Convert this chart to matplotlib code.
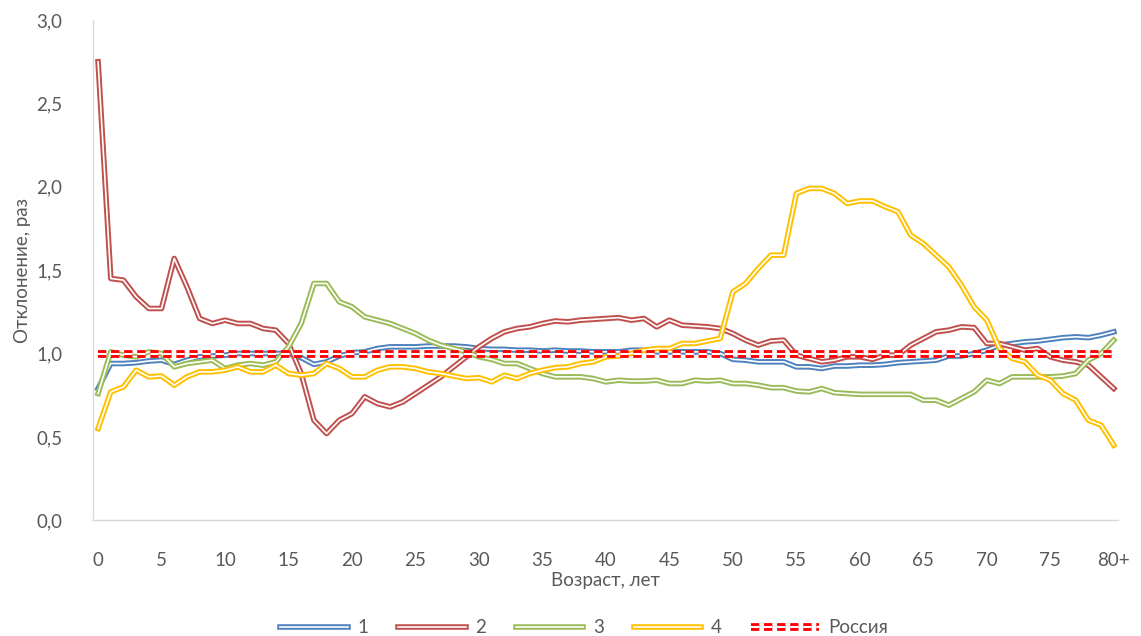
import matplotlib
matplotlib.use("Agg")
import matplotlib.pyplot as plt
import matplotlib.patheffects as pe
import numpy as np

plt.rcParams['font.family'] = ['Lato', 'DejaVu Sans']
plt.rcParams['lines.scale_dashes'] = False

ages = list(range(81))
tick_labels = [str(a) for a in range(0, 80, 5)] + ['80+']

s1 = [0.79, 0.94, 0.94, 0.945, 0.955, 0.96, 0.935, 0.96, 0.98, 0.985,
      0.99, 1.0, 1.0, 1.0, 1.0, 1.0, 0.975, 0.935, 0.95, 0.985,
      1.005, 1.01, 1.03, 1.04, 1.04, 1.04, 1.045, 1.045, 1.045, 1.04,
      1.03, 1.025, 1.025, 1.02, 1.02, 1.015, 1.02, 1.015, 1.015, 1.01,
      1.01, 1.01, 1.02, 1.02, 1.01, 1.01, 1.01, 1.01, 1.01, 1.0,
      0.965, 0.96, 0.95, 0.95, 0.95, 0.92, 0.92, 0.91, 0.925, 0.925,
      0.93, 0.93, 0.935, 0.945, 0.95, 0.955, 0.96, 0.985, 0.985, 1.0,
      1.02, 1.05, 1.06, 1.07, 1.075, 1.085, 1.095, 1.10, 1.095, 1.11,
      1.13]
s2 = [2.75, 1.45, 1.44, 1.34, 1.27, 1.27, 1.57, 1.40, 1.21, 1.18,
      1.20, 1.18, 1.18, 1.15, 1.14, 1.06, 0.88, 0.60, 0.52, 0.60,
      0.64, 0.74, 0.70, 0.68, 0.71, 0.76, 0.81, 0.86, 0.92, 0.98,
      1.04, 1.09, 1.13, 1.15, 1.16, 1.18, 1.195, 1.19, 1.20, 1.205,
      1.21, 1.215, 1.20, 1.21, 1.16, 1.20, 1.17, 1.165, 1.16, 1.15,
      1.12, 1.08, 1.05, 1.075, 1.08, 0.99, 0.97, 0.95, 0.96, 0.98,
      0.98, 0.965, 0.99, 0.99, 1.05, 1.09, 1.13, 1.14, 1.16, 1.155,
      1.06, 1.06, 1.04, 1.02, 1.03, 0.98, 0.96, 0.95, 0.93, 0.86,
      0.79]
s3 = [0.76, 1.01, 0.99, 0.98, 1.01, 1.00, 0.92, 0.94, 0.95, 0.96,
      0.91, 0.93, 0.94, 0.93, 0.95, 1.04, 1.18, 1.42, 1.42, 1.31,
      1.28, 1.22, 1.20, 1.18, 1.15, 1.12, 1.08, 1.05, 1.03, 1.01,
      0.98, 0.965, 0.94, 0.94, 0.91, 0.88, 0.86, 0.86, 0.86, 0.85,
      0.83, 0.84, 0.835, 0.835, 0.84, 0.82, 0.82, 0.84, 0.835, 0.84,
      0.82, 0.82, 0.81, 0.795, 0.795, 0.775, 0.77, 0.79, 0.765, 0.76,
      0.755, 0.755, 0.755, 0.755, 0.755, 0.72, 0.72, 0.69, 0.73, 0.77,
      0.84, 0.82, 0.86, 0.86, 0.86, 0.86, 0.865, 0.88, 0.96, 1.0,
      1.08]
s4 = [0.55, 0.77, 0.80, 0.90, 0.86, 0.865, 0.81, 0.86, 0.89, 0.89,
      0.90, 0.92, 0.89, 0.89, 0.93, 0.88, 0.87, 0.88, 0.94, 0.91,
      0.86, 0.86, 0.90, 0.92, 0.92, 0.91, 0.89, 0.88, 0.865, 0.85,
      0.855, 0.83, 0.87, 0.85, 0.88, 0.90, 0.915, 0.92, 0.94, 0.95,
      0.98, 0.985, 1.0, 1.02, 1.03, 1.03, 1.06, 1.06, 1.075, 1.09,
      1.37, 1.42, 1.51, 1.59, 1.59, 1.96, 1.99, 1.99, 1.96, 1.90,
      1.915, 1.915, 1.88, 1.85, 1.71, 1.66, 1.59, 1.52, 1.41, 1.28,
      1.20, 1.03, 0.97, 0.95, 0.87, 0.84, 0.76, 0.72, 0.60, 0.57,
      0.45]
russia = [1.0] * 81

series = [(s1, '1', '#4F81BD'), (s2, '2', '#C0504D'),
          (s3, '3', '#9BBB59'), (s4, '4', '#FFC000')]

fig = plt.figure(figsize=(11.41, 6.36), dpi=100)
ax = fig.add_axes([0.0815, 0.182, 0.898, 0.7865])

for vals, label, color in series:
    # double line: white core with coloured outer stroke
    ax.plot(ages, vals, color='white', lw=1.2, label=label,
            path_effects=[pe.Stroke(linewidth=4.0, foreground=color), pe.Normal()])

ax.plot(ages, russia, color='white', lw=1.5, dashes=(6.0, 3.4), label='Россия',
        path_effects=[pe.Stroke(linewidth=5.6, foreground='#FF0000'), pe.Normal()])

ax.set_xlim(-0.4, 80.3)
ax.set_ylim(0, 3.0)
ax.set_yticks(np.arange(0, 3.01, 0.5))
ax.set_yticklabels([f'{v:.1f}'.replace('.', ',') for v in np.arange(0, 3.01, 0.5)])
ax.set_xticks(ages[::5])
ax.set_xticklabels(tick_labels)

ax.tick_params(axis='both', length=0, labelsize=13.5, colors='#595959')
ax.tick_params(axis='y', pad=22)
ax.tick_params(axis='x', pad=23)

for side in ['top', 'right']:
    ax.spines[side].set_visible(False)
for side in ['left', 'bottom']:
    ax.spines[side].set_color('#D9D9D9')
    ax.spines[side].set_linewidth(1.0)

ax.set_xlabel('Возраст, лет', fontsize=13.5, color='#595959', labelpad=2)
ax.set_ylabel('Отклонение, раз', fontsize=13.5, color='#595959', labelpad=4)

ax.legend(loc='lower center', bbox_to_anchor=(0.512, -0.027), bbox_transform=fig.transFigure,
          ncol=5, frameon=False, fontsize=13.5, handlelength=3.6, handletextpad=0.5,
          columnspacing=1.6, labelcolor='#595959')

fig.savefig('out.png', dpi=100)
